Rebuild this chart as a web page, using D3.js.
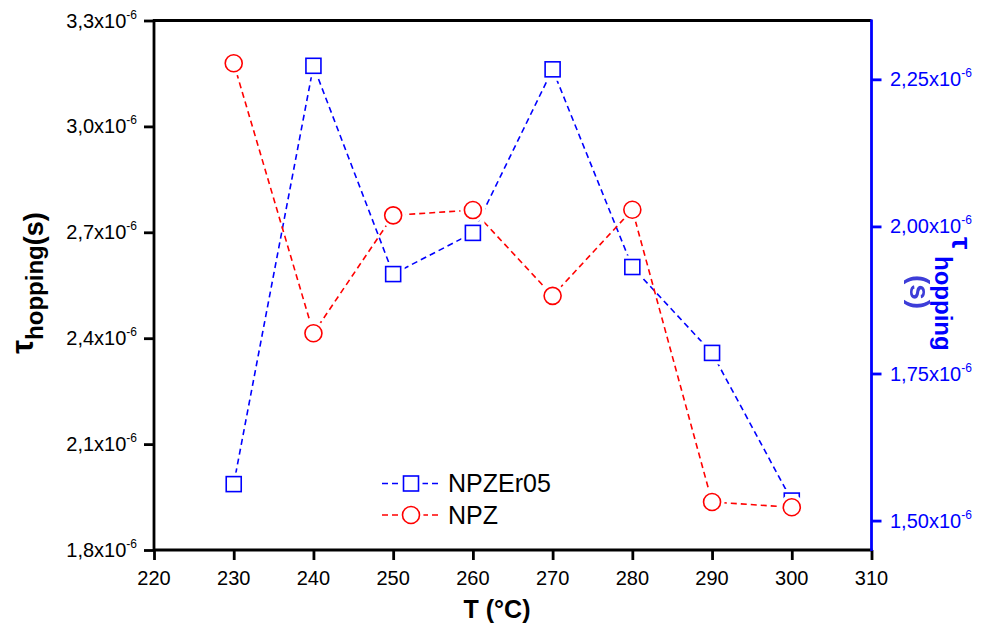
<!DOCTYPE html>
<html>
<head>
<meta charset="utf-8">
<script src="https://cdn.jsdelivr.net/npm/d3@7"></script>
<style>
  html, body { margin: 0; padding: 0; background: #fff; }
  svg { display: block; font-family: "Liberation Sans", Arial, sans-serif; }
</style>
</head>
<body>
<svg id="chart" width="990" height="627"></svg>
<script>
// Hopping time vs. sintering temperature (values in units of 10^-6 s)
const temperatures = [230, 240, 250, 260, 270, 280, 290, 300];
const npzEr05 = [1.562, 2.273, 1.919, 1.989, 2.267, 1.931, 1.785, 1.534]; // right axis
const npz     = [3.179, 2.414, 2.748, 2.763, 2.520, 2.764, 1.936, 1.921]; // left axis

const xTicks = [220, 230, 240, 250, 260, 270, 280, 290, 300, 310];
const leftTicks = [1.8, 2.1, 2.4, 2.7, 3.0, 3.3];
const rightTicks = [1.50, 1.75, 2.00, 2.25];

const svg = d3.select("#chart");
const plotLeft = 154, plotRight = 871.5, plotTop = 20.5, plotBottom = 550;
const BLUE = "#0000ff", RED = "#ff0000";
const AXW = 2.8;

const x = d3.scaleLinear().domain([220, 310]).range([plotLeft, plotRight]);
const yL = d3.scaleLinear().domain([1.8, 3.3]).range([plotBottom, plotTop]);
const yR = d3.scaleLinear().domain([1.45, 2.35]).range([plotBottom, plotTop]);

const comma = (f) => (v) => d3.format(f)(v).replace(".", ",");

// ---- axes ----
function drawAxis(axisFn, scale, major, minor, transform, color) {
  const g = svg.append("g").attr("transform", transform);
  g.call(axisFn(scale).tickValues(minor).tickSize(5).tickFormat(""));
  g.call(axisFn(scale).tickValues(major).tickSize(10).tickFormat(""));
  g.selectAll(".domain").remove();
  g.selectAll("line").attr("stroke", color).attr("stroke-width", AXW);
  return g;
}

// bottom
drawAxis(d3.axisBottom, x, xTicks, d3.range(225, 310, 10), `translate(0,${plotBottom})`, "#000");
svg.append("g").selectAll("text").data(xTicks).join("text")
  .attr("x", d => x(d)).attr("y", 585)
  .attr("text-anchor", "middle").attr("font-size", 20).attr("fill", "#000")
  .text(d => d);

// left
drawAxis(d3.axisLeft, yL, leftTicks, d3.range(1.95, 3.3, 0.3), `translate(${plotLeft},0)`, "#000");
const lt = svg.append("g").selectAll("text").data(leftTicks).join("text")
  .attr("x", 137).attr("y", d => yL(d) + 7)
  .attr("text-anchor", "end").attr("font-size", 20).attr("fill", "#000");
lt.append("tspan").text(d => comma(".1f")(d) + "x10");
lt.append("tspan").attr("font-size", 12).attr("dy", -9).text("-6");

// right
drawAxis(d3.axisRight, yR, rightTicks, [1.625, 1.875, 2.125], `translate(${plotRight},0)`, BLUE);
const rt = svg.append("g").selectAll("text").data(rightTicks).join("text")
  .attr("x", 890).attr("y", d => yR(d) + 7)
  .attr("text-anchor", "start").attr("font-size", 20).attr("fill", BLUE);
rt.append("tspan").text(d => comma(".2f")(d) + "x10");
rt.append("tspan").attr("font-size", 12).attr("dy", -9).text("-6");

// frame
svg.append("line").attr("x1", plotLeft - 1).attr("x2", plotRight).attr("y1", plotTop).attr("y2", plotTop)
  .attr("stroke", "#000").attr("stroke-width", AXW);
svg.append("line").attr("x1", plotLeft - 1).attr("x2", plotRight + 1).attr("y1", plotBottom).attr("y2", plotBottom)
  .attr("stroke", "#000").attr("stroke-width", AXW);
svg.append("line").attr("x1", plotLeft).attr("x2", plotLeft).attr("y1", plotTop - 1).attr("y2", plotBottom + 1)
  .attr("stroke", "#000").attr("stroke-width", AXW);
svg.append("line").attr("x1", plotRight).attr("x2", plotRight).attr("y1", plotTop - 1).attr("y2", plotBottom + 1)
  .attr("stroke", BLUE).attr("stroke-width", AXW);

// ---- axis titles ----
svg.append("text").attr("x", 497).attr("y", 618).attr("text-anchor", "middle")
  .attr("font-size", 25).attr("font-weight", "bold").attr("fill", "#000").text("T (°C)");

const defs = svg.append("defs");
defs.append("filter").attr("id", "soft").append("feGaussianBlur").attr("stdDeviation", 0.7);

// left title
const lTitle = svg.append("text").attr("transform", "translate(33,283) rotate(-90)")
  .attr("text-anchor", "middle").attr("font-weight", "bold").attr("fill", "#000");
lTitle.append("tspan").attr("font-size", 31).text("τ");
lTitle.append("tspan").attr("font-size", 24).attr("dy", 10).text("hopping");
lTitle.append("tspan").attr("font-size", 27).text("(s)");

// right title
const rTitle = svg.append("text").attr("transform", "translate(952,237) rotate(90)")
  .attr("text-anchor", "start").attr("font-weight", "bold").attr("fill", BLUE);
rTitle.append("tspan").attr("font-size", 28).text("τ");
rTitle.append("tspan").attr("font-size", 24).attr("dy", 17).attr("x", 19).text("hopping");
svg.append("text").attr("transform", "translate(910,292) rotate(90)")
  .attr("text-anchor", "middle").attr("font-weight", "bold").attr("font-size", 28)
  .attr("fill", "#3c3cd8").attr("filter", "url(#soft)").text("(s)");

// ---- series ----
const seriesList = [
  { name: "NPZEr05", values: npzEr05, y: yR, color: BLUE, shape: "square" },
  { name: "NPZ", values: npz, y: yL, color: RED, shape: "circle" }
];
const R = 8.5, S = 15, HALO = 4;

const plot = svg.append("g");
seriesList.forEach(s => {
  const line = d3.line().x((d, i) => x(temperatures[i])).y(d => s.y(d));
  plot.append("path").datum(s.values).attr("d", line)
    .attr("fill", "none").attr("stroke", s.color).attr("stroke-width", 1.6)
    .attr("stroke-dasharray", "6,4");
});

function marker(g, shape, cx, cy, color) {
  if (shape === "circle") {
    g.append("circle").attr("cx", cx).attr("cy", cy).attr("r", R + HALO).attr("fill", "#fff");
    g.append("circle").attr("cx", cx).attr("cy", cy).attr("r", R)
      .attr("fill", "#fff").attr("stroke", color).attr("stroke-width", 1.6);
  } else {
    g.append("rect").attr("x", cx - S / 2 - HALO).attr("y", cy - S / 2 - HALO)
      .attr("width", S + 2 * HALO).attr("height", S + 2 * HALO).attr("fill", "#fff");
    g.append("rect").attr("x", cx - S / 2).attr("y", cy - S / 2).attr("width", S).attr("height", S)
      .attr("fill", "#fff").attr("stroke", color).attr("stroke-width", 1.6);
  }
}

seriesList.forEach(s => {
  const g = plot.append("g");
  s.values.forEach((v, i) => marker(g, s.shape, x(temperatures[i]), s.y(v), s.color));
});

// ---- legend ----
const legend = svg.append("g");
seriesList.forEach((s, i) => {
  const cy = 483.5 + i * 31.5;
  legend.append("line").attr("x1", 382).attr("x2", 440).attr("y1", cy).attr("y2", cy)
    .attr("stroke", s.color).attr("stroke-width", 1.6).attr("stroke-dasharray", "6,4");
  marker(legend, s.shape, 411, cy, s.color);
  legend.append("text").attr("x", 448).attr("y", cy + 8.5).attr("font-size", 25)
    .attr("fill", "#000").text(s.name);
});
</script>
</body>
</html>
